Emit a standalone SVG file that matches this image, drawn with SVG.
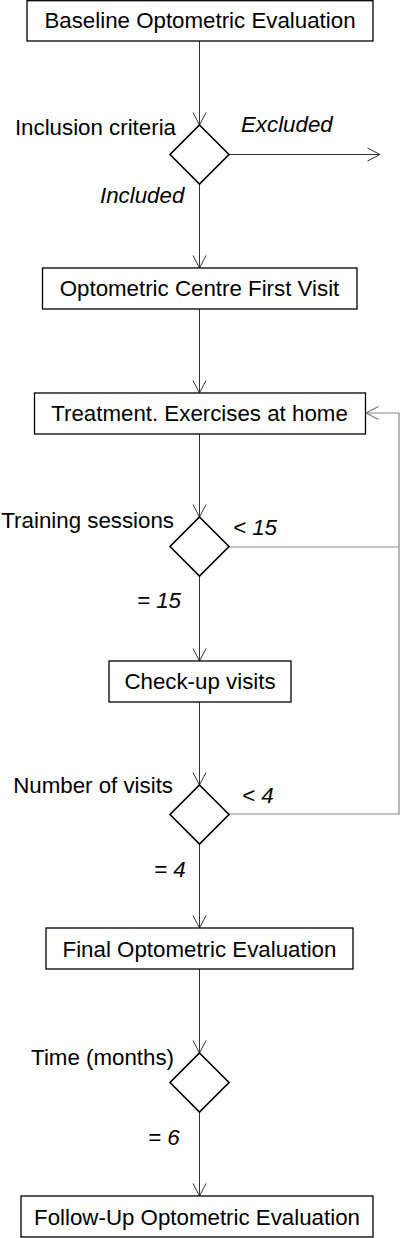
<svg xmlns="http://www.w3.org/2000/svg" width="400" height="1238" viewBox="0 0 400 1238">
<style>
.box{fill:#fff;stroke:#000;stroke-width:1.3}
.dia{fill:#fff;stroke:#000;stroke-width:1.6}
.t{font-family:"Liberation Sans",Arial,sans-serif;font-size:22.3px;fill:#000}
.i{font-style:italic}
.c{fill:none;stroke:#333;stroke-width:1}
.g{fill:none;stroke:#888;stroke-width:1.2}
</style>
<defs>
<marker id="ah" markerUnits="userSpaceOnUse" markerWidth="16" markerHeight="16" viewBox="-13 -8 14 16" refX="0" refY="0" orient="auto">
<path d="M-12.5,-6.5 L0,0 L-12.5,6.5" fill="none" stroke="#333" stroke-width="1"/>
</marker>
<marker id="ahg" markerUnits="userSpaceOnUse" markerWidth="16" markerHeight="16" viewBox="-13 -8 14 16" refX="0" refY="0" orient="auto">
<path d="M-12.5,-6.5 L0,0 L-12.5,6.5" fill="none" stroke="#777" stroke-width="1.1"/>
</marker>
</defs>
<g id="connectors">
<line class="c" x1="199.5" y1="41" x2="199.5" y2="125" marker-end="url(#ah)"/>
<line class="c" x1="229" y1="154.5" x2="380" y2="154.5" marker-end="url(#ah)"/>
<line class="c" x1="199.5" y1="184" x2="199.5" y2="268" marker-end="url(#ah)"/>
<line class="c" x1="199.5" y1="309" x2="199.5" y2="393" marker-end="url(#ah)"/>
<line class="c" x1="199.5" y1="434" x2="199.5" y2="517" marker-end="url(#ah)"/>
<line class="c" x1="199.5" y1="576" x2="199.5" y2="661" marker-end="url(#ah)"/>
<line class="c" x1="199.5" y1="702" x2="199.5" y2="785" marker-end="url(#ah)"/>
<line class="c" x1="199.5" y1="844" x2="199.5" y2="928" marker-end="url(#ah)"/>
<line class="c" x1="199.5" y1="969" x2="199.5" y2="1053" marker-end="url(#ah)"/>
<line class="c" x1="199.5" y1="1112" x2="199.5" y2="1196" marker-end="url(#ah)"/>
<line class="g" x1="229" y1="547" x2="399" y2="547"/>
<polyline class="g" points="229,814 399,814 399,413 366,413" marker-end="url(#ahg)"/>
<text class="t i" x="241" y="132">Excluded</text>
<text class="t i" x="100" y="203">Included</text>
<text class="t i" x="233" y="535">&lt; 15</text>
<text class="t i" x="137" y="608">= 15</text>
<text class="t i" x="242" y="803">&lt; 4</text>
<text class="t i" x="154" y="877">= 4</text>
<text class="t i" x="148" y="1145">= 6</text>
</g>
<g id="n1"><rect class="box" x="27" y="0.7" width="346" height="40.3"/><text class="t" x="200" y="28" text-anchor="middle">Baseline Optometric Evaluation</text></g>
<g id="d1"><polygon class="dia" points="199.5,125 229,154.5 199.5,184 170,154.5"/><text class="t" x="176" y="135" text-anchor="end">Inclusion criteria</text></g>
<g id="n2"><rect class="box" x="42.5" y="268" width="314.5" height="41"/><text class="t" x="199.5" y="296" text-anchor="middle">Optometric Centre First Visit</text></g>
<g id="n3"><rect class="box" x="34.5" y="393" width="331" height="41"/><text class="t" x="199.5" y="421" text-anchor="middle">Treatment. Exercises at home</text></g>
<g id="d2"><polygon class="dia" points="199.5,517 229,546.5 199.5,576 170,546.5"/><text class="t" x="174" y="528" text-anchor="end">Training sessions</text></g>
<g id="n4"><rect class="box" x="109" y="661" width="182" height="41"/><text class="t" x="200" y="689" text-anchor="middle">Check-up visits</text></g>
<g id="d3"><polygon class="dia" points="199.5,785 229,814.5 199.5,844 170,814.5"/><text class="t" x="173" y="793" text-anchor="end">Number of visits</text></g>
<g id="n5"><rect class="box" x="46" y="928" width="307" height="41"/><text class="t" x="199.5" y="957" text-anchor="middle">Final Optometric Evaluation</text></g>
<g id="d4"><polygon class="dia" points="199.5,1053 229,1082.5 199.5,1112 170,1082.5"/><text class="t" x="174" y="1065" text-anchor="end">Time (months)</text></g>
<g id="n6"><rect class="box" x="21" y="1196" width="352" height="41"/><text class="t" x="197" y="1225" text-anchor="middle">Follow-Up Optometric Evaluation</text></g>
</svg>
